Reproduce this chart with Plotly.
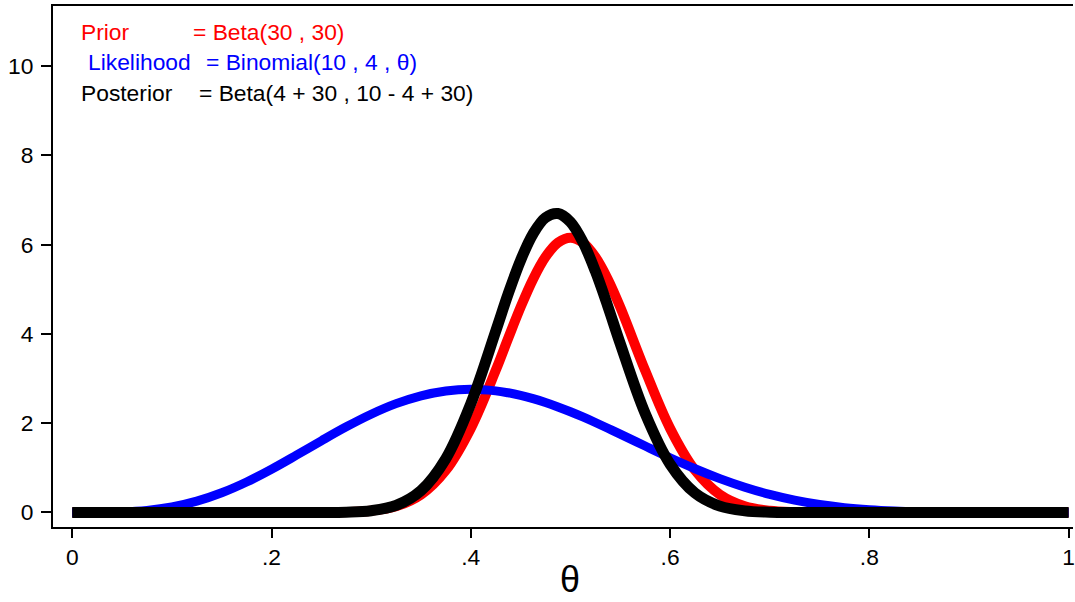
import plotly.graph_objects as go

theta = [0.0, 0.025, 0.05, 0.075, 0.1, 0.125, 0.15, 0.175, 0.2, 0.225,
         0.25, 0.275, 0.3, 0.325, 0.35, 0.375, 0.4, 0.425, 0.4375, 0.45, 0.4625, 0.475, 0.4875,
         0.5, 0.5125, 0.525, 0.5375, 0.55, 0.575, 0.6, 0.625, 0.65, 0.675, 0.7, 0.725,
         0.75, 0.775, 0.8, 0.825, 0.85, 0.875, 0.9, 0.925, 0.95, 0.975, 1.0]

prior = [0, 0, 0, 0, 0, 0, 0, 0, 0, 0.0001,
         0.0015, 0.0087, 0.039, 0.139, 0.400, 0.947, 1.884, 3.181, 3.899, 4.599, 5.226, 5.724, 6.044,
         6.155, 6.044, 5.724, 5.226, 4.599, 3.181, 1.884, 0.947, 0.400, 0.139, 0.039, 0.0087,
         0.0015, 0.0001, 0, 0, 0, 0, 0, 0, 0, 0, 0]

likelihood = [0, 0.0008, 0.0106, 0.0458, 0.1228, 0.2531, 0.4411, 0.6831, 0.9689, 1.2828,
              1.6060, 1.9185, 2.2013, 2.4377, 2.6143, 2.7228, 2.7590, 2.7237, 2.6807, 2.6221, 2.5488, 2.4623, 2.3641,
              2.2559, 2.1392, 2.0157, 1.8873, 1.7553, 1.4881, 1.2262, 0.9802, 0.7580, 0.5651, 0.4043, 0.2760,
              0.1784, 0.1081, 0.0606, 0.0307, 0.0137, 0.0052, 0.0015, 0.0003, 0, 0, 0]

posterior = [0, 0, 0, 0, 0, 0, 0, 0, 0, 0.0001,
             0.0012, 0.0078, 0.0404, 0.159, 0.490, 1.208, 2.436, 4.060, 4.896, 5.649, 6.242, 6.604, 6.695,
             6.505, 6.058, 5.406, 4.620, 3.782, 2.219, 1.083, 0.435, 0.142, 0.037, 0.0074, 0.0011,
             0.0001, 0, 0, 0, 0, 0, 0, 0, 0, 0, 0]

x_tickvals = [0, 0.2, 0.4, 0.6, 0.8, 1]
x_ticktext = ["0", ".2", ".4", ".6", ".8", "1"]
y_tickvals = [0, 2, 4, 6, 8, 10]
y_ticktext = ["0", "2", "4", "6", "8", "10"]

FONT = "Liberation Sans, Arial, sans-serif"
FS = 22.8

fig = go.Figure()
fig.add_trace(go.Scatter(x=theta, y=prior, mode="lines", line=dict(color="#FF0000", width=10, shape="spline"), showlegend=False))
fig.add_trace(go.Scatter(x=theta, y=likelihood, mode="lines", line=dict(color="#0000FF", width=9, shape="spline"), showlegend=False))
fig.add_trace(go.Scatter(x=theta, y=posterior, mode="lines", line=dict(color="#000000", width=11, shape="spline"), showlegend=False))

fig.update_layout(
    width=1075, height=602,
    margin=dict(l=53, r=0, t=6, b=75),
    paper_bgcolor="white", plot_bgcolor="white",
    font=dict(family=FONT, size=FS, color="black"),
    xaxis=dict(range=[-0.0193, 1.0044], tickvals=x_tickvals, ticktext=x_ticktext,
               showgrid=False, zeroline=False, showline=True, linecolor="black", linewidth=2,
               mirror=True, ticks="outside", ticklen=9, tickwidth=2, tickcolor="black",
               tickfont=dict(size=FS, family=FONT), ticklabelstandoff=0,
               ticklabeloverflow="allow"),
    yaxis=dict(range=[-0.325, 11.344], tickvals=y_tickvals, ticktext=y_ticktext,
               showgrid=False, zeroline=False, showline=True, linecolor="black", linewidth=2,
               ticks="outside", ticklen=10, tickwidth=2, tickcolor="black",
               tickfont=dict(size=FS, family=FONT), ticklabelstandoff=3),
)

ann = [
    ("Prior", 0.0067, 10.76, "#FF0000"),
    ("= Beta(30 , 30)", 0.1195, 10.76, "#FF0000"),
    ("Likelihood", 0.0137, 10.08, "#0000FF"),
    ("= Binomial(10 , 4 , θ)", 0.132, 10.08, "#0000FF"),
    ("Posterior", 0.0067, 9.40, "#000000"),
    ("= Beta(4 + 30 , 10 - 4 + 30)", 0.125, 9.40, "#000000"),
]
for text, x, y, c in ann:
    fig.add_annotation(text=text, x=x, y=y, xref="x", yref="y", xanchor="left", yanchor="middle",
                       showarrow=False, font=dict(size=FS, color=c, family=FONT))

fig.add_annotation(text="θ", x=0.5, y=-0.143, xref="x", yref="paper", xanchor="center", yanchor="bottom",
                   showarrow=False, font=dict(size=36, color="black", family=FONT))

fig.write_html("out.html")
